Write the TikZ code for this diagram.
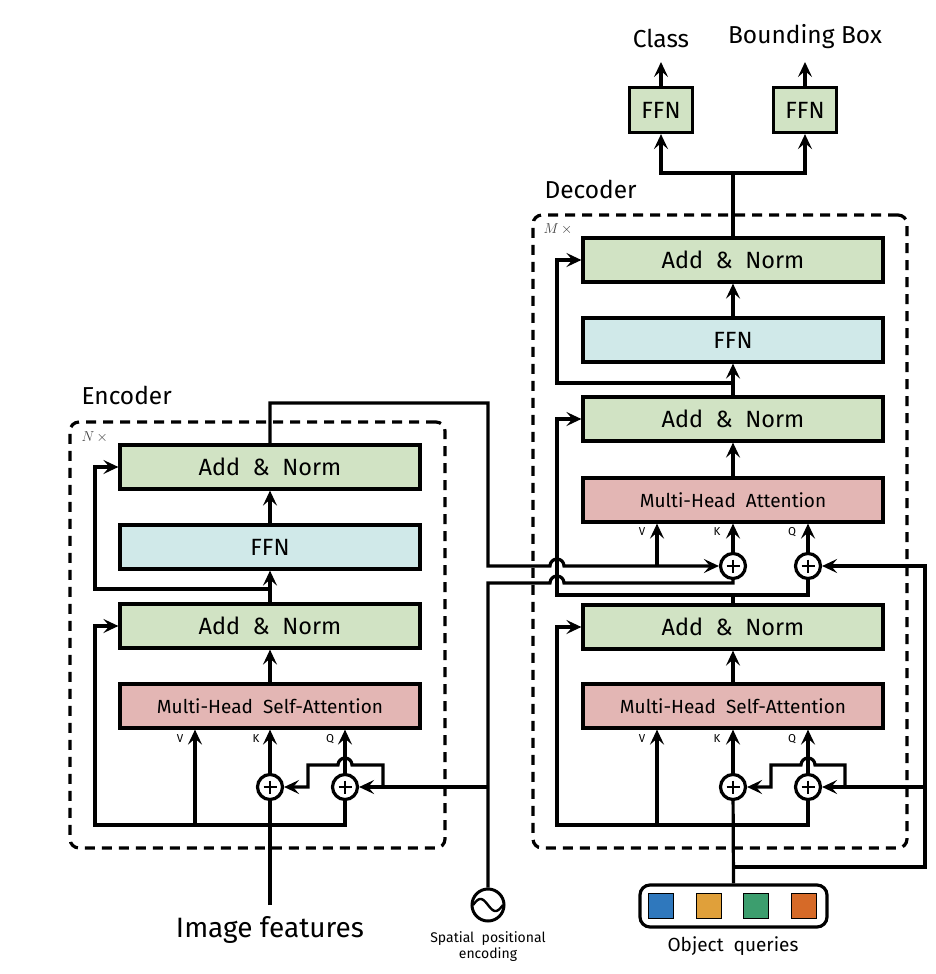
\documentclass[tikz,border=0pt]{standalone}
\usepackage{fontspec}
\setmainfont{Fira Sans}
\usetikzlibrary{arrows.meta,calc}
\definecolor{gfill}{RGB}{209,227,196}
\definecolor{bfill}{RGB}{208,233,233}
\definecolor{rfill}{RGB}{227,182,180}
\definecolor{qblue}{RGB}{47,120,189}
\definecolor{qyel}{RGB}{224,160,58}
\definecolor{qgreen}{RGB}{60,158,110}
\definecolor{qorange}{RGB}{214,106,40}
\begin{document}
\begin{tikzpicture}[x=1pt,y=-1pt,
  ln/.style={line width=3.2pt},
  ar/.style={ln,-{Stealth[length=15pt,width=14pt,inset=6pt]}},
  blk/.style={draw,line width=3.2pt,minimum width=300pt,minimum height=44pt,inner sep=0pt},
  an/.style={blk,fill=gfill,font=\fontsize{23.5}{25}\selectfont},
  ff/.style={blk,fill=bfill,font=\fontsize{23.5}{25}\selectfont},
  mh/.style={blk,fill=rfill,font=\fontsize{19}{21}\selectfont},
  sm/.style={circle,draw,line width=3.2pt,minimum size=25pt,inner sep=0pt,fill=white,
    path picture={\draw[line width=2.4pt]
      ($(path picture bounding box.center)+(-6.5,0)$) -- ($(path picture bounding box.center)+(6.5,0)$)
      ($(path picture bounding box.center)+(0,-6.5)$) -- ($(path picture bounding box.center)+(0,6.5)$);}},
  lab/.style={font=\fontsize{11.5}{13}\selectfont},
  dbox/.style={draw,line width=3.2pt,dash pattern=on 10pt off 7pt,rounded corners=9pt,inner sep=0pt},
  small/.style={draw,line width=3.2pt,fill=gfill,minimum width=63pt,minimum height=45pt,inner sep=0pt,font=\fontsize{23.5}{25}\selectfont},
  sq/.style={draw,line width=1.8pt,minimum size=25pt,inner sep=0pt},
  title/.style={font=\fontsize{24.5}{26}\selectfont},
]
\useasboundingbox (0,0) rectangle (936,974);

% ---------- Encoder ----------
\node[dbox,minimum width=375pt,minimum height=426pt] (encbox) at (257.5,635) {};
\node[title,anchor=west] (enct) at (78,395) {Encoder};
\node[anchor=west,font=\fontsize{14}{16}\selectfont,text=black!75] (encn) at (78,437) {$N\,\times$};

\node[an] (eAN2) at (270,467) {Add\ \ \&\ \ Norm};
\node[ff] (eFFN) at (270,547) {FFN};
\node[an] (eAN1) at (270,626) {Add\ \ \&\ \ Norm};
\node[mh] (eMHSA) at (270,706) {Multi-Head\ \ Self-Attention};
\node[sm] (ek) at (270,787) {};
\node[sm] (eq) at (345,787) {};
\node[lab] (eVl) at (180,739) {V};
\node[lab] (eKl) at (256,739) {K};
\node[lab] (eQl) at (330,739) {Q};

\node[font=\fontsize{28}{30}\selectfont] (imf) at (270,930) {Image features};
\node[circle,draw,line width=3pt,minimum size=32pt,inner sep=0pt] (pe) at (488,905) {};
\draw[line width=2.4pt] plot[domain=-15:15,samples=40] ({488+\x},{905+6*sin(\x*12)});
\node[align=center,font=\fontsize{14}{16}\selectfont] (pet) at (488,947) {Spatial\ \ positional\\encoding};

\coordinate (eimg) at (270,905);
\coordinate (ebl) at (95,825);
\coordinate (eV) at (195,825);
\coordinate (eR2) at (270,589);
\coordinate (eout) at (270,403);
\coordinate (pej) at (488,787);
\coordinate (estep) at (383,787);

\draw[ln] (eimg) -- (ek);
\draw[ar] (ek) -- (ek |- eMHSA.south);
\draw[ar] (eq) -- (eq |- eMHSA.south);
\draw[ar] (eV) -- (eV |- eMHSA.south);
\draw[ar] (eq.south) |- (ebl) |- (eAN1.west);
\draw[ar] (eMHSA) -- (eAN1);
\draw[ar] (eAN1) -- (eFFN);
\draw[ar] (eR2) -- (95,589) |- (eAN2.west);
\draw[ar] (eFFN) -- (eAN2);

% positional encoding
\draw[ln] (pe.north) -- (488,583) -- (550,583) arc[start angle=180,end angle=0,radius=7pt] -- (733,583) -- (733,578);
\draw[ar] (pej) -- (eq);
\draw[ar] (estep) -- (383,765) -- (352,765) arc[start angle=0,end angle=180,radius=7pt] -- (308,765) -- (308,787) -- (ek);

% ---------- Decoder ----------
\node[dbox,minimum width=374pt,minimum height=633pt] (decbox) at (720,531.5) {};
\node[title,anchor=west] (dect) at (541,189) {Decoder};
\node[anchor=west,font=\fontsize{14}{16}\selectfont,text=black!75] (decm) at (540,229) {$M\,\times$};

\node[an] (dAN3) at (733,260) {Add\ \ \&\ \ Norm};
\node[ff] (dFFN) at (733,340) {FFN};
\node[an] (dAN2) at (733,419) {Add\ \ \&\ \ Norm};
\node[mh] (dMHA) at (733,500) {Multi-Head\ \ Attention};
\node[an] (dAN1) at (733,627) {Add\ \ \&\ \ Norm};
\node[mh] (dMHSA) at (733,706) {Multi-Head\ \ Self-Attention};
\node[sm] (dK) at (733,566) {};
\node[sm] (dQ) at (808,566) {};
\node[sm] (sK) at (733,787) {};
\node[sm] (sQ) at (808,787) {};
\node[lab] (dVl) at (642,532) {V};
\node[lab] (dKl) at (717,532) {K};
\node[lab] (dQl) at (792,532) {Q};
\node[lab] (sVl) at (642,739) {V};
\node[lab] (sKl) at (717,739) {K};
\node[lab] (sQl) at (792,739) {Q};

\node[small] (fc) at (661,110) {FFN};
\node[small] (fb) at (805,110) {FFN};
\node[title] (clt) at (661,38) {Class};
\node[title] (bbt) at (805,37) {Bounding Box};

\node[draw,line width=3.2pt,rounded corners=10pt,minimum width=187pt,minimum height=42pt] (oq) at (733.5,906) {};
\node[sq,fill=qblue] (q1) at (661,906) {};
\node[sq,fill=qyel] (q2) at (709,906) {};
\node[sq,fill=qgreen] (q3) at (756,906) {};
\node[sq,fill=qorange] (q4) at (804,906) {};
\node[font=\fontsize{19}{22}\selectfont] (oqt) at (733,946) {Object\ \ queries};

\coordinate (oj) at (733,867);
\coordinate (dbl) at (557,825);
\coordinate (dV) at (657,825);
\coordinate (dVm) at (657,566);
\coordinate (dsplit) at (733,595);
\coordinate (dR3) at (733,383);
\coordinate (dtop) at (733,173);

% encoder memory into decoder
\draw[ar] (eAN2.north) -- (eout) -- (488,403) -- (488,566) -- (550,566) arc[start angle=180,end angle=0,radius=7pt] -- (dK.west);
\draw[ar] (dVm) -- (dVm |- dMHA.south);

% object queries
\draw[ln] (oq.north) -- (sK);
\draw[ar] (oj) -- (925,867) -- (925,566) -- (dQ);
\draw[ar] (925,787) -- (sQ);
\draw[ar] (845,787) -- (845,765) -- (815,765) arc[start angle=0,end angle=180,radius=7pt] -- (771,765) -- (771,787) -- (sK);
\draw[ar] (sQ.south) |- (dbl) |- (dAN1.west);
\draw[ar] (dV) -- (dV |- dMHSA.south);
\draw[ar] (sK) -- (sK |- dMHSA.south);
\draw[ar] (sQ) -- (sQ |- dMHSA.south);
\draw[ar] (dMHSA) -- (dAN1);

\draw[ln] (dAN1.north) -- (dsplit);
\draw[ar] (dsplit) -- (557,595) |- (dAN2.west);
\draw[ln] (dsplit) -- (808,595) -- (dQ.south);
\draw[ar] (dK) -- (dK |- dMHA.south);
\draw[ar] (dQ) -- (dQ |- dMHA.south);
\draw[ar] (dMHA) -- (dAN2);
\draw[ar] (dAN2) -- (dFFN);
\draw[ar] (dR3) -- (557,383) |- (dAN3.west);
\draw[ar] (dFFN) -- (dAN3);
\draw[ln] (dAN3.north) -- (dtop);
\draw[ar] (dtop) -| (fc.south);
\draw[ar] (dtop) -| (fb.south);
\draw[ar] (fc) -- (661,62);
\draw[ar] (fb) -- (805,62);
\end{tikzpicture}
\end{document}
